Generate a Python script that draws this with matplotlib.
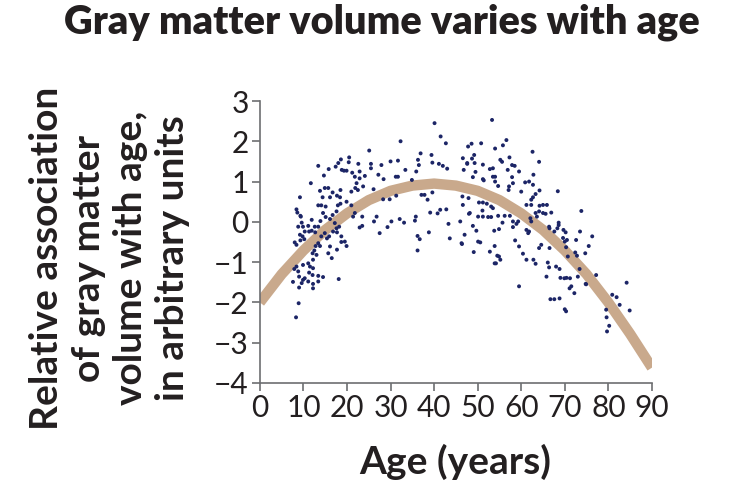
import matplotlib
matplotlib.use('Agg')
import matplotlib.pyplot as plt

# individual participants, younger half of the cloud (age in years, relative association)
ages_left = [
    40.1, 41.5, 42.7, 32.3, 25.1, 47.8, 20.5, 18.6, 18.0, 17.4,
    18.8, 19.3, 19.9, 20.4, 22.6, 25.5, 25.5, 27.9, 30.0, 31.7,
    31.2, 31.7, 27.2, 28.4, 24.1, 22.9, 21.2, 21.8, 22.9, 22.2,
    23.7, 22.5, 21.9, 21.0, 18.5, 18.4, 18.5, 17.9, 17.6, 13.4,
    14.7, 15.8, 13.8, 14.9, 15.7, 14.4, 16.1, 13.4, 14.1, 15.1,
    14.5, 16.7, 11.7, 9.2, 17.7, 16.7, 19.9, 21.0, 21.8, 21.4,
    23.5, 23.5, 22.9, 26.1, 28.3, 29.8, 26.8, 26.2, 27.5, 29.3,
    30.2, 32.1, 33.1, 31.3, 33.4, 34.9, 35.9, 36.3, 36.9, 36.5,
    39.4, 39.6, 41.1, 42.0, 43.0, 37.1, 37.8, 38.5, 39.6, 39.1,
    40.8, 41.4, 42.8, 35.8, 35.6, 36.2, 36.7, 36.2, 38.8, 43.3,
    43.6, 46.0, 46.4, 46.6, 46.8, 46.5, 46.6, 48.2, 47.6, 8.4,
    8.6, 9.3, 8.0, 8.4, 9.3, 9.2, 8.8, 9.9, 11.1, 10.3,
    11.3, 11.9, 9.8, 10.2, 12.6, 13.4, 12.7, 13.9, 15.1, 16.1,
    17.2, 17.6, 16.8, 17.7, 18.2, 18.7, 19.5, 19.9, 18.7, 17.7,
    16.5, 16.1, 15.4, 14.9, 14.1, 13.4, 13.8, 12.8, 12.5, 12.1,
    13.0, 15.7, 15.9, 12.2, 11.1, 11.5, 12.2, 11.3, 12.1, 9.9,
    8.4, 8.8, 7.9, 9.0, 9.9, 9.6, 7.6, 9.0, 10.3, 11.1,
    12.2, 13.4, 13.4, 14.5, 12.2, 18.1, 8.9, 8.3, 9.4, 9.6,
    11.9]
values_left = [
    2.45, 2.12, 1.95, 2.0, 1.77, 1.87, 1.6, 1.55, 1.46, 1.37,
    1.29, 1.27, 1.27, 1.48, 1.44, 1.44, 1.33, 1.41, 1.5, 1.52,
    1.12, 1.12, 1.17, 1.06, 1.14, 1.25, 1.22, 1.12, 1.08, 0.96,
    0.88, 0.79, 0.84, 0.75, 0.79, 0.61, 0.45, 0.41, 0.26, 1.39,
    1.15, 1.31, 0.77, 0.84, 0.84, 0.61, 0.61, 0.41, 0.41, 0.38,
    0.22, 0.17, 0.96, 0.61, 0.65, 0.73, 0.5, 0.41, 0.22, 0.13,
    0.13, -0.1, -0.14, 0.81, 0.56, 0.56, 0.13, 0.01, -0.28, -0.13,
    0.01, 0.07, -0.02, 0.65, 1.29, 1.04, 1.25, 1.54, 1.70, 1.41,
    1.66, 1.47, 1.44, 1.39, 1.32, 0.67, 0.67, 0.55, 0.73, 0.23,
    0.21, 0.3, 0.31, 0.13, 0.03, -0.35, -0.43, -0.71, -0.26, -0.05,
    -0.41, 0.01, -0.55, 1.58, 1.29, 0.63, 0.42, 0.22, 1.46, 0.31,
    0.23, 0.15, -0.51, -0.57, -0.46, -0.32, -0.12, -0.12, -0.1, -0.24,
    -0.24, -0.22, -0.36, -0.43, -0.12, -0.12, -0.26, 0.02, 0.12, 0.07,
    -0.03, -0.16, -0.24, -0.26, -0.12, -0.36, -0.49, -0.6, -0.5, -0.69,
    -0.9, -0.61, -0.41, -0.28, -0.36, -0.53, -0.6, -0.6, -0.71, -0.78,
    -0.82, -0.78, -0.36, -0.94, -1.03, -1.11, -1.15, -1.26, -1.32, -1.07,
    -1.11, -1.23, -1.17, -1.36, -1.44, -1.52, -1.49, -1.63, -1.4, -1.48,
    -1.54, -1.48, -1.34, -1.37, -1.65, -1.42, -2.02, -2.37, 0.13, -0.02,
    0.05]

# older half of the cloud
ages_right = [
    53.3, 56.6, 55.8, 54.0, 50.8, 48.6, 49.2, 48.7, 47.6, 49.3,
    51.2, 49.5, 52.8, 53.5, 55.2, 55.6, 57.3, 57.9, 58.5, 56.9,
    59.5, 62.6, 64.1, 62.8, 48.9, 51.2, 51.4, 54.0, 54.0, 54.7,
    53.5, 57.9, 58.1, 57.2, 57.1, 60.0, 60.9, 61.8, 62.7, 64.2,
    63.3, 62.7, 62.3, 68.4, 47.9, 50.3, 51.2, 52.1, 53.1, 53.5,
    53.1, 52.4, 51.2, 50.1, 51.1, 48.0, 54.7, 54.9, 53.8, 56.2,
    57.4, 58.1, 59.3, 58.9, 58.1, 55.7, 61.2, 62.3, 64.2, 65.0,
    65.9, 64.1, 63.3, 63.6, 65.0, 66.9, 65.6, 62.1, 62.3, 61.2,
    61.6, 61.8, 66.4, 66.5, 68.6, 68.6, 69.7, 70.2, 69.6, 70.0,
    70.5, 67.6, 66.5, 70.3, 70.7, 72.6, 73.5, 73.8, 76.3, 75.5,
    72.8, 73.4, 73.0, 74.8, 77.2, 71.5, 71.1, 72.2, 69.9, 71.2,
    68.0, 68.8, 66.1, 66.4, 65.8, 66.7, 67.6, 68.8, 70.0, 70.3,
    59.5, 58.6, 59.5, 60.4, 61.2, 62.8, 63.3, 64.6, 64.1, 53.9,
    54.5, 54.9, 55.2, 53.9, 54.2, 52.8, 50.6, 50.1, 49.7, 48.9,
    49.1, 47.0, 46.3, 84.2, 80.9, 81.9, 82.6, 84.9, 79.6, 80.2,
    79.7, 79.5, 74.7, 72.4, 68.3, 74.9, 69.0, 70.4]
values_right = [
    2.53, 2.03, 1.9, 1.82, 1.95, 1.94, 1.66, 1.57, 1.44, 1.46,
    1.42, 1.24, 1.31, 1.33, 1.54, 1.49, 1.6, 1.41, 1.39, 1.29,
    1.25, 1.74, 1.49, 1.17, 1.11, 1.06, 1.03, 1.12, 1.0, 0.89,
    1.12, 1.11, 0.96, 0.88, 0.79, 0.75, 0.98, 1.0, 0.92, 0.78,
    0.69, 0.61, 0.55, 0.76, 0.59, 0.48, 0.48, 0.45, 0.38, 0.34,
    0.12, 0.12, 0.13, 0.13, 0.28, 0.2, 0.15, -0.18, -0.22, 0.15,
    0.15, 0.01, 0.01, -0.05, -0.13, -0.02, 0.42, 0.42, 0.4, 0.42,
    0.42, 0.26, 0.22, 0.13, 0.22, 0.23, 0.2, 0.09, 0.01, -0.2,
    -0.28, -0.24, -0.12, -0.16, -0.02, -0.08, -0.2, -0.26, -0.4, -0.49,
    -0.45, -0.24, -0.65, -0.63, -0.86, -0.45, -0.24, 0.27, -0.36, -0.6,
    -0.84, -1.17, -1.36, -1.54, -1.32, -1.6, -1.65, -1.77, -1.4, -1.4,
    -1.11, -1.17, -1.01, -1.13, -1.36, -1.92, -1.92, -1.9, -2.17, -2.22,
    -1.6, -0.46, -0.61, -0.79, -0.94, -0.94, -1.04, -0.57, -0.65, -0.6,
    -0.84, -0.86, -0.94, -1.03, -1.03, -0.74, -0.51, -0.49, -0.22, -0.1,
    -0.75, -0.32, -0.53, -1.51, -1.81, -1.87, -2.06, -2.2, -2.37, -2.58,
    -2.72, -2.18, -0.78, -0.76, -0.16, -1.55, -1.39, -1.39]

# fitted trend, read every 5 years
fit_ages = [0, 5, 10, 15, 20, 25, 30, 35, 40, 45, 50, 55, 60, 65, 70, 75, 80, 85, 90]
fit_values = [-2.0, -1.30, -0.71, -0.20, 0.21, 0.54, 0.77, 0.90, 0.95, 0.90,
              0.77, 0.54, 0.21, -0.20, -0.71, -1.30, -2.0, -2.78, -3.62]

x_ticks = [0, 10, 20, 30, 40, 50, 60, 70, 80, 90]
y_ticks = [-4, -3, -2, -1, 0, 1, 2, 3]

plt.rcParams['font.family'] = ['Lato', 'DejaVu Sans']
text_color = '#231f20'
axis_color = '#6d6e71'

fig = plt.figure(figsize=(7.3, 5), dpi=100)
ax = fig.add_axes([0.356, 0.234, 0.537, 0.564])

ax.plot(fit_ages, fit_values, color='#c9a98c', lw=7.5, solid_capstyle='butt', zorder=2)
ax.scatter(ages_left + ages_right, values_left + values_right, s=8, color='#1c2566',
           edgecolors='none', zorder=3)

ax.set_xlim(0, 90)
ax.set_ylim(-4, 3)
ax.set_xticks(x_ticks)
ax.set_yticks(y_ticks)
for side in ['top', 'right']:
    ax.spines[side].set_visible(False)
for side in ['left', 'bottom']:
    ax.spines[side].set_color(axis_color)
    ax.spines[side].set_linewidth(1.2)
ax.tick_params(direction='out', length=6, width=1.2, color=axis_color,
               labelsize=21.5, labelcolor=text_color, pad=2)

fig.text(0.523, 0.956, 'Gray matter volume varies with age', ha='center', va='center',
         fontsize=28.5, fontweight='heavy', color=text_color)
fig.text(0.623, 0.076, 'Age (years)', ha='center', va='center',
         fontsize=28, fontweight='bold', color=text_color)
fig.text(0.150, 0.484, 'Relative association\nof gray matter\nvolume with age,\nin arbitrary units',
         ha='center', va='center', rotation=90, fontsize=28, fontweight='bold',
         color=text_color, linespacing=1.25)

fig.savefig('out.png', dpi=100)
